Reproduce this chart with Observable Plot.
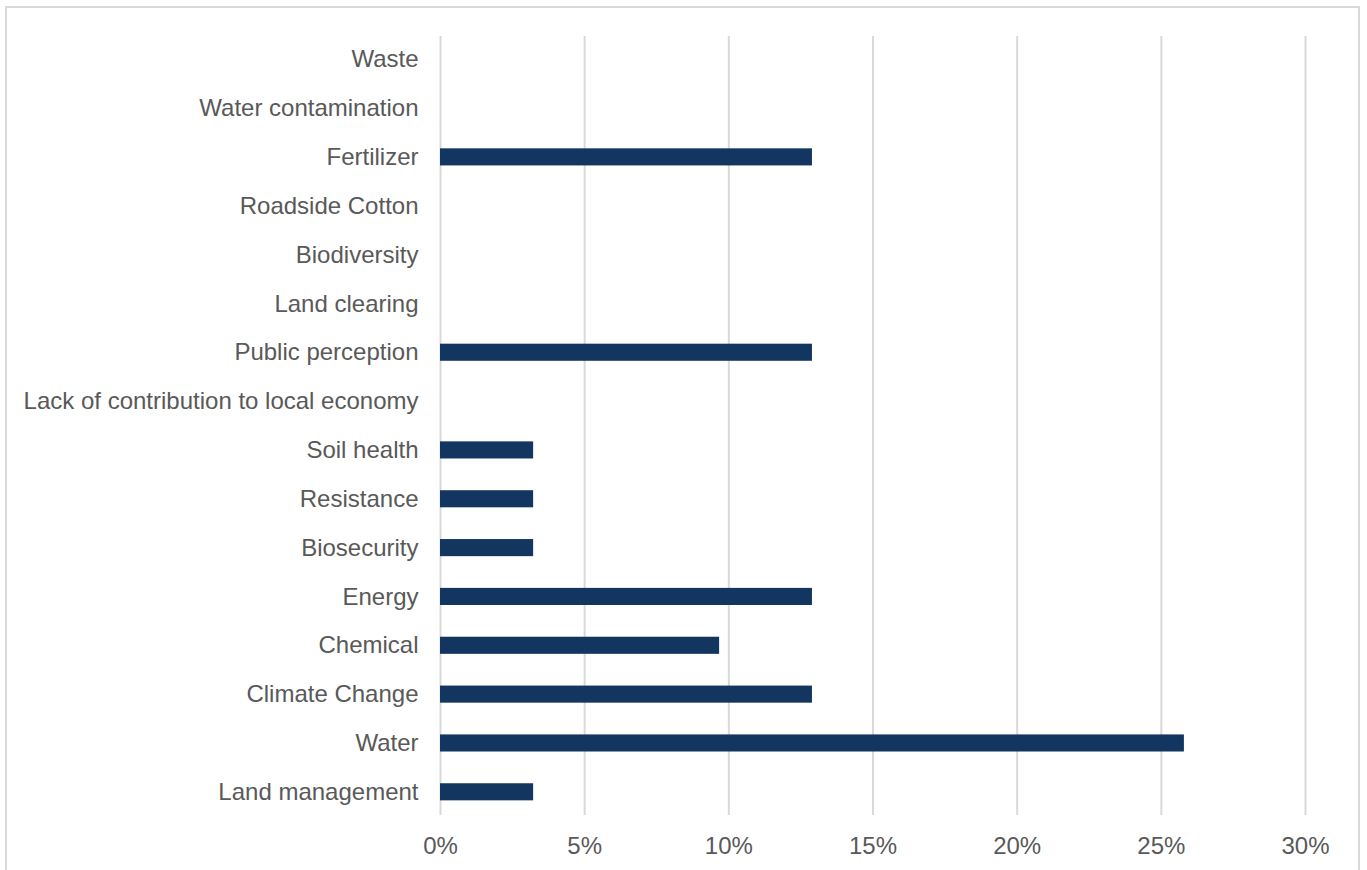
<!DOCTYPE html>
<html>
<head>
<meta charset="utf-8">
<script src="https://cdn.jsdelivr.net/npm/d3@7"></script>
<script src="https://cdn.jsdelivr.net/npm/@observablehq/plot@0.6"></script>
<style>
  html, body { margin: 0; padding: 0; background: #fff; width: 1367px; height: 870px; overflow: hidden; }
  #frame { position: absolute; left: 5px; top: 6px; width: 1355px; height: 880px; border: 2px solid #d9d9d9; box-sizing: border-box; }
  #chart { position: absolute; left: 0; top: 0; }
</style>
</head>
<body>
<div id="frame"></div>
<div id="chart"></div>
<script>
const categories = [
  "Waste", "Water contamination", "Fertilizer", "Roadside Cotton", "Biodiversity",
  "Land clearing", "Public perception", "Lack of contribution to local economy",
  "Soil health", "Resistance", "Biosecurity", "Energy", "Chemical",
  "Climate Change", "Water", "Land management"
];
const values = [0, 0, 0.129, 0, 0, 0, 0.129, 0, 0.0323, 0.0323, 0.0323, 0.129, 0.0968, 0.129, 0.258, 0.0323];
const xTicks = [0, 0.05, 0.10, 0.15, 0.20, 0.25, 0.30];

const data = categories.map((c, i) => ({category: c, value: values[i]}));
const fmt = d => Math.round(d * 100) + "%";

const chart = Plot.plot({
  width: 1367,
  height: 870,
  marginLeft: 440,
  marginRight: 62,
  marginTop: 36,
  marginBottom: 55,
  style: { fontFamily: "Liberation Sans, Arial, sans-serif", fontSize: "24px", color: "#595959", background: "transparent" },
  x: { domain: [0, 0.30], ticks: xTicks, tickFormat: fmt, label: null },
  y: { domain: categories, label: null, paddingInner: 0.65, paddingOuter: 0.3, round: false },
  marks: [
    Plot.ruleX(xTicks, { stroke: "#d9d9d9", strokeWidth: 2 }),
    Plot.barX(data, { x: "value", y: "category", fill: "#12365f" }),
    Plot.axisX({ ticks: xTicks, tickSize: 0, tickPadding: 21, tickFormat: fmt, label: null, fontSize: 24, fill: "#595959" }),
    Plot.axisY({ tickSize: 0, tickPadding: 22, label: null, fontSize: 24, fill: "#595959" })
  ]
});
document.getElementById("chart").appendChild(chart);
</script>
</body>
</html>
